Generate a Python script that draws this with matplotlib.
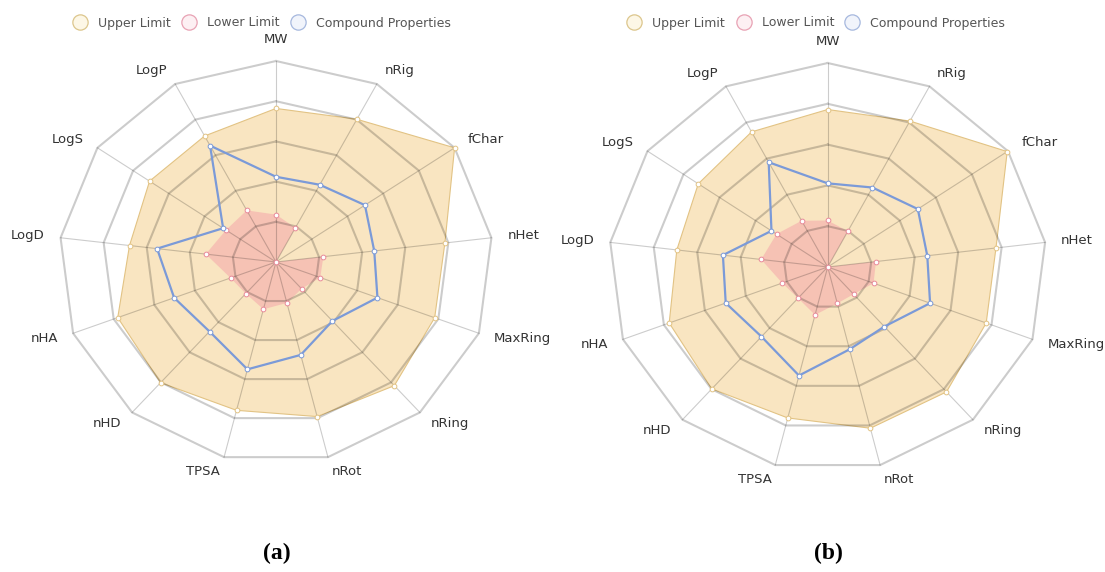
import numpy as np
import matplotlib
matplotlib.use("Agg")
import matplotlib.pyplot as plt
from matplotlib.lines import Line2D

# Property axes, clockwise from the top
properties = ["MW", "nRig", "fChar", "nHet", "MaxRing", "nRing", "nRot",
              "TPSA", "nHD", "nHA", "LogD", "LogS", "LogP"]

# Panel (a)
upper_a = [3.82, 4.01, 5.00, 3.92, 3.91, 4.11, 3.96, 3.80, 4.01, 3.90, 3.40, 3.54, 3.54]
lower_a = [1.18, 0.96, 0.00, 1.10, 1.09, 0.89, 1.05, 1.21, 1.05, 1.12, 1.63, 1.40, 1.45]
comp_a = [2.12, 2.17, 2.49, 2.28, 2.50, 1.96, 2.38, 2.75, 2.31, 2.51, 2.76, 1.48, 3.27]

# Panel (b)
upper_b = [3.86, 4.04, 4.98, 3.87, 3.87, 4.09, 4.07, 3.81, 3.99, 3.87, 3.47, 3.59, 3.74]
lower_b = [1.14, 0.99, 0.00, 1.11, 1.12, 0.89, 0.92, 1.21, 1.02, 1.11, 1.53, 1.42, 1.28]
comp_b = [2.05, 2.20, 2.50, 2.29, 2.50, 1.95, 2.08, 2.74, 2.28, 2.49, 2.41, 1.56, 2.90]

ring_levels = [1, 2, 3, 4, 5]
series_names = ["Upper Limit", "Lower Limit", "Compound Properties"]
panel_tags = ["(a)", "(b)"]

UPPER_FILL = "#f5d08f"
UPPER_EDGE = "#e2c384"
LOWER_FILL = "#f4a0a8"
LOWER_EDGE = "#e98a9a"
COMP_LINE = "#7b9ad8"
GRID = (0, 0, 0, 0.2)

W, H = 1105, 572
fig = plt.figure(figsize=(W / 100, H / 100), dpi=100)

n = len(properties)
theta = np.arange(n) * 2 * np.pi / n


def closed(vals):
    v = list(vals)
    return np.r_[theta, theta[0]], np.r_[v, v[0]]


def radar(rect, upper, lower, comp, legend_cx, tag, tag_cx):
    ax = fig.add_axes(rect, projection="polar")
    ax.set_theta_zero_location("N")
    ax.set_theta_direction(-1)
    ax.set_ylim(0, 5)
    ax.set_aspect("auto")
    ax.grid(False)
    ax.spines["polar"].set_visible(False)
    ax.set_xticks([])
    ax.set_yticks([])
    ax.patch.set_alpha(0)

    # filled limits
    t, u = closed(upper)
    ax.fill(t, u, color=UPPER_FILL, alpha=0.55, lw=0, zorder=1)
    ax.plot(t, u, color=UPPER_EDGE, lw=0.8, zorder=2)
    t, l = closed(lower)
    ax.fill(t, l, color=LOWER_FILL, alpha=0.5, lw=0, zorder=2)

    # polygonal grid
    for lev in ring_levels:
        t, r = closed([lev] * n)
        ax.plot(t, r, color=GRID, lw=1.5, zorder=3, clip_on=False,
                solid_joinstyle="miter")
    for a in theta:
        ax.plot([a, a], [0, 5], color=GRID, lw=0.8, zorder=3, clip_on=False)

    # compound line
    t, c = closed(comp)
    ax.plot(t, c, color=COMP_LINE, lw=1.6, zorder=4)

    # vertex markers
    ax.plot(theta, upper, ls="none", marker="o", ms=3.4, mfc="white",
            mec=UPPER_EDGE, mew=0.7, zorder=5, clip_on=False)
    ax.plot(theta, lower, ls="none", marker="o", ms=3.4, mfc="white",
            mec=LOWER_EDGE, mew=0.7, zorder=5)
    ax.plot(theta, comp, ls="none", marker="o", ms=3.4, mfc="white",
            mec=COMP_LINE, mew=0.7, zorder=5)

    # property names
    for a, name in zip(theta, properties):
        s, c_ = np.sin(a), np.cos(a)
        if abs(s) < 0.05:
            ha = "center"
            va = "bottom" if c_ > 0 else "top"
        else:
            ha = "left" if s > 0 else "right"
            va = "center"
        ax.text(a, 5.37, name, ha=ha, va=va, fontsize=9.5, color="#333333",
                clip_on=False)

    handles = [
        Line2D([], [], ls="none", marker="o", ms=11, mfc="#fdf7e6",
               mec="#dcc68c", mew=0.9),
        Line2D([], [], ls="none", marker="o", ms=11, mfc="#fdf0f3",
               mec="#e8a2b4", mew=0.9),
        Line2D([], [], ls="none", marker="o", ms=11, mfc="#f1f4fb",
               mec="#a6b8de", mew=0.9),
    ]
    fig.legend(handles, series_names, loc="center", ncol=3, frameon=False,
               bbox_to_anchor=(legend_cx / W, 1 - 23 / H), fontsize=9,
               labelcolor="#555555", handlelength=1.4, handletextpad=0.75,
               columnspacing=0.76, borderpad=0, borderaxespad=0)

    fig.text(tag_cx / W, 1 - 553 / H, tag, ha="center", va="center",
             fontsize=17, fontweight="bold", family="Liberation Serif")
    return ax


def rect_from(cx, cy, rh, rv):
    return [(cx - rh) / W, (H - cy - rv) / H, 2 * rh / W, 2 * rv / H]


radar(rect_from(276, 262, 217, 201), upper_a, lower_a, comp_a, 261, panel_tags[0], 277)
radar(rect_from(827.7, 267, 219, 204), upper_b, lower_b, comp_b, 815.5, panel_tags[1], 828)

fig.savefig("out.png", dpi=100)
